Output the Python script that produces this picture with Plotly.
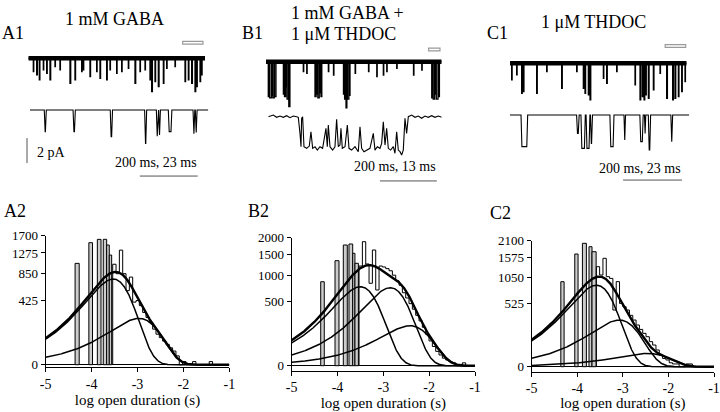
import numpy as np
import plotly.graph_objects as go

W, H = 720, 412
SERIF = "Liberation Serif"

# ---------------- histogram data (event counts, sqrt-scaled display) ----------------
A_bar_left  = [-4.36, -4.06, -3.875, -3.746, -3.672, -3.615]
A_bar_right = [-4.27, -3.98, -3.795, -3.672, -3.615, -3.563]
A_bar_count = [1049, 1521, 1605, 1606, 1463, 1229]
A_cont_start, A_cont_width = -3.54, 0.0725
A_cont_count = [1031, 846, 1341, 846, 560, 784, 400, 420, 356, 279, 228, 182, 129, 95, 75,
                57, 42, 29, 19, 8, 0, 1, 0, 0, 1, 0, 0, 0, 0, 1]
A_fit_logtau = [-3.53, -2.97]
A_fit_peak = [750, 220]
A_yticks = [0, 425, 850, 1275, 1700]

B_bar_left  = [-4.367, -4.055, -3.874, -3.75, -3.669, -3.62]
B_bar_right = [-4.289, -3.968, -3.787, -3.669, -3.62, -3.545]
B_bar_count = [861, 1346, 1778, 1808, 1542, 1280]
B_cont_start, B_cont_width = -3.53, 0.0727
B_cont_count = [1213, 1877, 1263, 829, 1634, 700, 1213, 1190, 1150, 1100, 1000, 880, 790, 650,
                560, 470, 390, 310, 245, 180, 120, 75, 45, 25, 14, 7, 4, 2, 1, 0, 0, 1]
B_fit_logtau = [-3.5, -2.85, -2.42]
B_fit_peak = [762, 742, 195]
B_yticks = [0, 500, 1000, 1500, 2000]

C_bar_left  = [-4.361, -4.055, -3.887, -3.743, -3.677]
C_bar_right = [-4.289, -3.983, -3.80, -3.677, -3.586]
C_bar_count = [956, 1680, 2014, 1905, 1749]
C_cont_start, C_cont_width = -3.582, 0.0727
C_cont_count = [1323, 1112, 1554, 1072, 1031, 425, 957, 530, 476, 425, 349, 288, 230, 184, 147,
                119, 83, 62, 37, 18, 9, 6, 2, 1, 1, 0, 0, 1, 1]
C_fit_logtau = [-3.58, -3.08, -2.47]
C_fit_peak = [880, 288, 23.5]
C_yticks = [0, 525, 1050, 1575, 2100]

x_ticks = [-5, -4, -3, -2, -1]

# ---------------- single-channel trace data (ms, pA) ----------------
A1_top_T = 610
A1_top_t = [17.3, 28.8, 38.0, 51.8, 63.3, 74.8, 92.1, 109.3, 143.9, 161.1, 184.2, 189.9, 212.9,
            236.0, 247.5, 270.5, 282.0, 305.0, 322.3, 345.3, 368.3, 385.6, 402.9, 420.1, 425.9,
            437.4, 448.9, 466.2, 477.7, 506.4, 541.0, 552.5, 564.0, 575.5, 581.3, 592.8, 598.5]
A1_top_w = [1.5, 2.5, 2.0, 1.5, 2.0, 2.5, 1.5, 1.5, 2.5, 2.0, 1.5, 1.5, 2.0,
            1.5, 2.0, 2.0, 1.5, 1.5, 1.5, 1.5, 2.5, 1.5, 1.5, 2.0, 2.5,
            2.0, 2.5, 2.0, 1.5, 1.5, 2.0, 2.0, 2.5, 2.5, 2.0, 2.0, 1.5]
A1_top_d = [1.07, 1.33, 1.73, 0.93, 1.2, 1.73, 0.67, 0.93, 2.0, 1.73, 1.07, 0.93, 1.47,
            1.07, 1.6, 1.73, 0.93, 1.2, 1.07, 0.8, 2.0, 1.07, 0.93, 1.73, 2.67,
            1.87, 2.27, 2.0, 0.8, 0.67, 1.87, 1.73, 2.0, 2.67, 2.27, 1.87, 1.33]
A1_seg_start = 533
A1_bot_T = 70
A1_bot_start = [5.6, 16.9, 31.5, 45.0, 49.6, 50.5, 54.3, 64.0, 64.9]
A1_bot_end   = [6.4, 17.8, 32.4, 45.8, 50.3, 51.2, 55.7, 64.7, 65.6]
A1_bot_depth = [1.73, 1.73, 2.13, 2.67, 2.1, 2.0, 1.73, 1.9, 1.8]

B1_top_T = 617
B1_top_t = [8, 13, 20, 24, 30, 61, 65, 70, 74, 80, 131, 143, 172, 177, 182, 189, 193, 219, 237,
            272, 276, 281, 286, 292, 313, 360, 389, 412, 424, 459, 518, 547, 582, 587, 593, 598, 605]
B1_top_w = [4, 6, 3, 5, 5, 3, 4, 2, 5, 4, 1.5, 1.5, 4, 3, 5, 3, 3, 1.5, 1.5,
            3, 4, 3, 5, 3, 1.5, 1.5, 1.5, 1.5, 1.5, 1.5, 1.5, 1.5, 4, 5, 3, 6, 4]
B1_top_d = [2.8, 2.9, 2.7, 2.9, 2.8, 2.6, 2.8, 2.0, 3.0, 3.6, 0.8, 0.93, 2.8, 2.6, 2.9, 2.5, 2.8,
            0.8, 1.07, 2.6, 3.0, 3.7, 3.0, 2.7, 0.93, 0.8, 1.2, 1.07, 0.8, 0.53, 1.07, 0.67,
            2.9, 3.0, 2.6, 3.0, 2.8]
B1_seg_start = 571
B1_bot_T = 40
B1_bot_ms = [0, 1.15, 1.92, 2.69, 3.46, 4.23, 5.0, 5.77, 6.54, 6.92, 7.31, 7.54, 7.69, 7.92, 8.23,
             8.84, 9.46, 9.84, 10.23, 10.77, 11.3, 11.92, 12.53, 13.07, 13.3, 13.61, 13.84, 14.23,
             14.84, 15.38, 15.76, 16.15, 16.53, 16.76, 17.07, 17.69, 18.23, 18.61, 19.23, 19.99,
             20.76, 21.15, 21.53, 22.07, 22.69, 23.45, 24.22, 24.61, 25.15, 25.76, 26.15, 26.53,
             26.92, 27.3, 27.68, 28.22, 28.84, 29.22, 29.61, 29.99, 30.38, 30.76, 31.14, 31.53,
             31.91, 32.3, 33.07, 33.84, 34.6, 35.37, 36.14, 36.91, 37.68, 38.45, 39.22, 39.99]
B1_bot_pA = [0, 0.13, -0.05, 0.05, -0.05, 0.08, -0.08, 0.05, 0, -0.05, -1.33, -2.4, -0.13, 0, -2.4,
             -2.53, -2.35, -1.2, -2.53, -2.4, -2.67, -2.4, -2.53, -1.2, -0.93, -2.4, -0.67, -2.4,
             -2.67, -2.4, -0.21, -2.4, -2.27, -0.93, -2.53, -2.4, -0.67, -2.53, -2.67, -2.4,
             -2.8, -0.8, -2.53, -2.8, -2.67, -2.53, -1.33, -2.67, -2.4, -2.53, -2.13, -0.4,
             -2.27, -0.93, -2.53, -2.67, -2.4, -2.93, -1.2, -2.67, -2.8, -3.07, -2.67, -0.13,
             -1.33, 0, 0.13, -0.05, 0.05, -0.13, 0.05, -0.05, 0.08, -0.05, 0.05, -0.05]

C1_top_T = 600
C1_top_t = [5.7, 22.6, 39.6, 45.3, 90.6, 124.5, 175.5, 226.4, 249.0, 254.7, 266.0, 271.7, 317.0,
            328.3, 362.2, 424.5, 441.5, 449.4, 455.1, 460.7, 469.8, 486.8, 509.4, 532.0, 552.4,
            560.3, 571.7, 583.0, 594.3]
C1_top_w = [1.5, 1.5, 2.0, 2.0, 2.0, 1.5, 2.0, 1.5, 2.0, 2.0, 2.0, 2.5, 1.5,
            2.0, 1.5, 1.5, 2.5, 2.0, 2.5, 2.0, 2.5, 2.0, 1.5, 2.5, 2.5,
            2.5, 2.0, 2.0, 1.5]
C1_top_d = [1.33, 0.93, 2.4, 2.27, 2.4, 0.67, 2.0, 0.67, 2.0, 2.4, 2.53, 2.93, 1.2,
            1.6, 0.67, 1.73, 2.93, 2.67, 2.93, 2.53, 2.8, 2.13, 0.8, 2.8, 2.93,
            2.8, 2.67, 2.27, 1.47]
C1_seg_start = 527
C1_bot_T = 70
C1_bot_start = [4.3, 26.0, 27.7, 29.7, 31.4, 39.0, 44.5, 50.7, 52.5, 54.0, 62.8]
C1_bot_end   = [6.9, 27.0, 29.4, 31.2, 32.2, 40.6, 45.1, 52.0, 53.0, 54.9, 63.5]
C1_bot_depth = [2.53, 1.47, 2.67, 2.67, 2.27, 2.53, 2.0, 2.13, 1.47, 2.8, 2.13]

SCALE_MS = 200
SCALE_PA = 2

# ---------------- helpers ----------------
def xdom(a, b):
    return [a / W, b / W]

def ydom(top, bot):
    return [1 - bot / H, 1 - top / H]

def spikes_path(T, t, w, d):
    xs, ys = [0], [0]
    for ti, wi, di in sorted(zip(t, w, d)):
        xs += [ti, ti, ti + wi, ti + wi]
        ys += [0, -di, -di, 0]
    xs.append(T); ys.append(0)
    return xs, ys

def events_path(T, s, e, d, ramp=0.35):
    xs, ys = [0], [0]
    for si, ei, di in sorted(zip(s, e, d)):
        r = min(ramp, (ei - si) / 2)
        xs += [si, si + r, ei - r, ei]
        ys += [0, -di, -di, 0]
    xs.append(T); ys.append(0)
    return xs, ys

fig = go.Figure()
layout = dict(width=W, height=H, margin=dict(l=0, r=0, t=0, b=0, autoexpand=False),
              paper_bgcolor="white", plot_bgcolor="rgba(0,0,0,0)",
              showlegend=False, barmode="overlay", font=dict(family=SERIF, color="black"))
shapes, annotations = [], []

# ---------------- histograms ----------------
hists = [
    dict(bl=A_bar_left, br=A_bar_right, bc=A_bar_count, cs=A_cont_start, cw=A_cont_width,
         cc=A_cont_count, tau=A_fit_logtau, pk=A_fit_peak, yt=A_yticks,
         px=(45.7, 229.3), py=(235.7, 364.7, 367.0)),
    dict(bl=B_bar_left, br=B_bar_right, bc=B_bar_count, cs=B_cont_start, cw=B_cont_width,
         cc=B_cont_count, tau=B_fit_logtau, pk=B_fit_peak, yt=B_yticks,
         px=(291.7, 475.0), py=(237.7, 365.7, 370.5)),
    dict(bl=C_bar_left, br=C_bar_right, bc=C_bar_count, cs=C_cont_start, cw=C_cont_width,
         cc=C_cont_count, tau=C_fit_logtau, pk=C_fit_peak, yt=C_yticks,
         px=(531.7, 714.0), py=(240.7, 366.7, 371.5)),
]
grid = np.linspace(-5, -1, 801)
for i, h in enumerate(hists, start=1):
    xa, ya = ("x", "y") if i == 1 else (f"x{i}", f"y{i}")
    bl, br = np.array(h["bl"]), np.array(h["br"])
    fig.add_trace(go.Bar(x=(bl + br) / 2, y=np.sqrt(h["bc"]), width=br - bl, base=0,
                         marker=dict(color="#cccccc", line=dict(color="black", width=1)),
                         xaxis=xa, yaxis=ya, hoverinfo="skip"))
    cc = np.array(h["cc"], dtype=float)
    edges = h["cs"] + h["cw"] * np.arange(len(cc) + 1)
    xs = np.concatenate([[edges[0]], edges])
    ys = np.concatenate([[0], np.sqrt(cc), [0]])
    fig.add_trace(go.Scatter(x=xs, y=ys, mode="lines", line=dict(color="black", width=1, shape="hv"),
                             xaxis=xa, yaxis=ya, hoverinfo="skip"))
    total = np.zeros_like(grid)
    for m, p in zip(h["tau"], h["pk"]):
        u = 10 ** (grid - m)
        comp = p * u * np.exp(1 - u)
        total += comp
        fig.add_trace(go.Scatter(x=grid, y=np.sqrt(comp), mode="lines",
                                 line=dict(color="black", width=1.5), xaxis=xa, yaxis=ya, hoverinfo="skip"))
    fig.add_trace(go.Scatter(x=grid, y=np.sqrt(total), mode="lines",
                             line=dict(color="black", width=2.4), xaxis=xa, yaxis=ya, hoverinfo="skip"))
    top_px, zero_px, axis_px = h["py"]
    ymax = np.sqrt(h["yt"][-1])
    pxu = (zero_px - top_px) / ymax
    ymin = -(axis_px - zero_px) / pxu
    kx = "xaxis" if i == 1 else f"xaxis{i}"
    ky = "yaxis" if i == 1 else f"yaxis{i}"
    layout[kx] = dict(domain=xdom(*h["px"]), anchor=ya, range=[-5, -1], automargin=False,
                      tickvals=x_ticks, ticktext=[f"-{abs(v)}" for v in x_ticks],
                      ticks="outside", ticklen=4, tickwidth=1, tickcolor="black",
                      showline=True, linecolor="black", linewidth=1, showgrid=False, zeroline=False,
                      tickfont=dict(family=SERIF, size=14, color="black"),
                      title=dict(text="log open duration (s)", standoff=2,
                                 font=dict(family=SERIF, size=15, color="black")))
    layout[ky] = dict(domain=ydom(top_px, axis_px), anchor=xa, range=[ymin, ymax], automargin=False,
                      tickvals=np.sqrt(h["yt"]), ticktext=[str(v) for v in h["yt"]],
                      ticks="outside", ticklen=4, tickwidth=1, tickcolor="black",
                      showline=True, linecolor="black", linewidth=1, showgrid=False,
                      zeroline=True, zerolinecolor="black", zerolinewidth=1,
                      tickfont=dict(family=SERIF, size=13, color="black"))

# ---------------- traces ----------------
PX_PER_PA = 12.5
cols = [
    dict(top=spikes_path(A1_top_T, A1_top_t, A1_top_w, A1_top_d), T=A1_top_T, tpx=(28.3, 205.0), tb=58.3,
         bot=events_path(A1_bot_T, A1_bot_start, A1_bot_end, A1_bot_depth), Tb=A1_bot_T,
         bpx=(30.0, 208.3), bb=110.0, seg=A1_seg_start, segy=1.25,
         sbar=(385, -9.42), vbar=(27.0, -6.38)),
    dict(top=spikes_path(B1_top_T, B1_top_t, B1_top_w, B1_top_d), T=B1_top_T, tpx=(266.0, 441.7), tb=61.7,
         bot=(B1_bot_ms, B1_bot_pA), Tb=B1_bot_T,
         bpx=(268.3, 441.7), bb=116.7, seg=B1_seg_start, segy=0.98,
         sbar=(400, -9.54), vbar=None),
    dict(top=spikes_path(C1_top_T, C1_top_t, C1_top_w, C1_top_d), T=C1_top_T, tpx=(510.0, 686.7), tb=63.3,
         bot=events_path(C1_bot_T, C1_bot_start, C1_bot_end, C1_bot_depth), Tb=C1_bot_T,
         bpx=(510.0, 689.3), bb=115.0, seg=C1_seg_start, segy=1.38,
         sbar=(384, -9.34), vbar=None),
]
ax = 4
for c in cols:
    # top (compressed) trace
    xt, yt = f"x{ax}", f"y{ax}"
    fig.add_trace(go.Scatter(x=[0, c["T"]], y=[0, 0], mode="lines", line=dict(color="black", width=4.5),
                             xaxis=xt, yaxis=yt, hoverinfo="skip"))
    fig.add_trace(go.Scatter(x=c["top"][0], y=c["top"][1], mode="lines", line=dict(color="black", width=1.3),
                             xaxis=xt, yaxis=yt, hoverinfo="skip"))
    ytop_px, ybot_px = 30, 190
    layout[f"xaxis{ax}"] = dict(domain=xdom(*c["tpx"]), range=[0, c["T"]], visible=False, anchor=yt)
    layout[f"yaxis{ax}"] = dict(domain=ydom(ytop_px, ybot_px), visible=False, anchor=xt,
                                range=[-(ybot_px - c["tb"]) / PX_PER_PA, (c["tb"] - ytop_px) / PX_PER_PA])
    # expanded-segment marker
    shapes.append(dict(type="rect", xref=xt, yref=yt, x0=c["seg"], x1=c["seg"] + c["Tb"],
                       y0=c["segy"] - 0.11, y1=c["segy"] + 0.11,
                       line=dict(color="#9a9a9a", width=1.2), fillcolor="white"))
    # scale bars
    sx, sy = c["sbar"]
    shapes.append(dict(type="line", xref=xt, yref=yt, x0=sx, x1=sx + SCALE_MS, y0=sy, y1=sy,
                       line=dict(color="#555555", width=1)))
    if c["vbar"] is not None:
        vx, vy = c["vbar"]
        shapes.append(dict(type="line", xref="paper", yref=yt, x0=vx / W, x1=vx / W, y0=vy, y1=vy - SCALE_PA,
                           line=dict(color="#555555", width=1)))
    # bottom (expanded) trace
    xb, yb = f"x{ax+1}", f"y{ax+1}"
    fig.add_trace(go.Scatter(x=c["bot"][0], y=c["bot"][1], mode="lines", line=dict(color="black", width=1.1),
                             xaxis=xb, yaxis=yb, hoverinfo="skip"))
    layout[f"xaxis{ax+1}"] = dict(domain=xdom(*c["bpx"]), range=[0, c["Tb"]], visible=False, anchor=yb)
    layout[f"yaxis{ax+1}"] = dict(domain=ydom(c["bb"] - 20, c["bb"] + 50), range=[-4, 1.6],
                                  visible=False, anchor=xb)
    ax += 2

# ---------------- text ----------------
def txt(s, x, y, size, xanchor="center"):
    annotations.append(dict(text=s, x=x / W, y=1 - y / H, xref="paper", yref="paper",
                            xanchor=xanchor, yanchor="middle", showarrow=False,
                            font=dict(family=SERIF, size=size, color="black")))

txt("1 mM GABA", 114, 19, 18)
txt("A1", 12.5, 33, 18)
txt("1 mM GABA +", 289, 13, 18, "left")
txt("1 \u03bcM THDOC", 289, 34, 18, "left")
txt("B1", 252.5, 33, 18)
txt("1 \u03bcM THDOC", 593.5, 22, 18)
txt("C1", 497.5, 33, 18)
txt("A2", 15, 211, 18)
txt("B2", 258, 211, 18)
txt("C2", 500, 213, 18)
txt("2 pA", 51, 153, 14)
txt("200 ms, 23 ms", 156, 163, 14)
txt("200 ms, 13 ms", 394.5, 166.5, 14)
txt("200 ms, 23 ms", 639.5, 168, 14)

layout["shapes"] = shapes
layout["annotations"] = annotations
fig.update_layout(**layout)
fig.write_html("out.html", config={"displayModeBar": False},
               post_script="document.body.style.margin='0';document.body.style.overflow='hidden';")
